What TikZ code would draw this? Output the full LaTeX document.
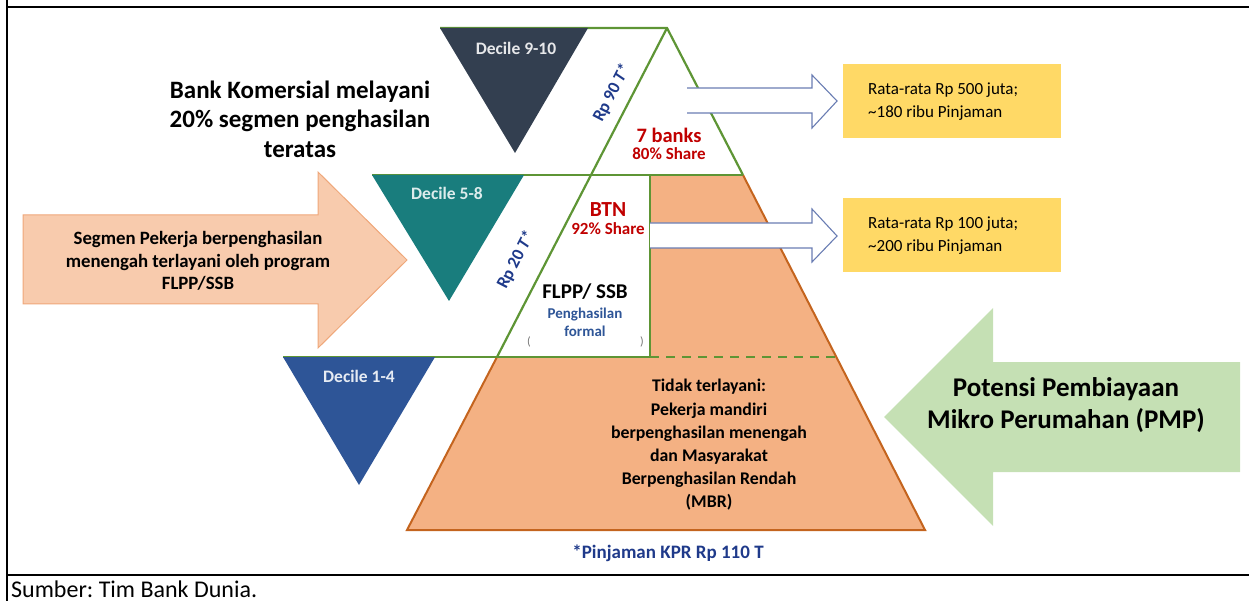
\documentclass[tikz,border=0pt]{standalone}
\usepackage{fontspec}
\setmainfont{Carlito}
\usepackage{tikz}
\usetikzlibrary{positioning}

\definecolor{decnine}{HTML}{333F50}
\definecolor{decfive}{HTML}{197D7D}
\definecolor{decone}{HTML}{2E5597}
\definecolor{pyrgreen}{HTML}{5E9535}
\definecolor{pyrfill}{HTML}{F4B183}
\definecolor{pyredge}{HTML}{C4641E}
\definecolor{peach}{HTML}{F8CBAD}
\definecolor{peachline}{HTML}{EFA77A}
\definecolor{arrline}{HTML}{6A7DB3}
\definecolor{boxyellow}{HTML}{FFD966}
\definecolor{pmpgreen}{HTML}{C5E0B4}
\definecolor{sharered}{HTML}{C00000}
\definecolor{rpblue}{HTML}{1F3A8A}

\newcommand{\setsz}[2]{\fontsize{#1}{#2}\selectfont}
\frenchspacing

\begin{document}
\begin{tikzpicture}[x=1pt, y=-1pt,
  decile/.style   = {inner sep=0pt, font=\setsz{17.5}{19}\bfseries},
  bigtext/.style  = {inner sep=0pt, align=center},
  greenline/.style= {draw=pyrgreen, line width=2.2pt},
  blockarr/.style = {draw=arrline, line width=1.1pt}]

\useasboundingbox (0,0) rectangle (1249,601);

% frame of the table cell
\draw [line width=2pt] (7,0) -- (7,601);
\draw [line width=2pt] (7,7) -- (1249,7);
\draw [line width=2pt] (7,575) -- (1249,575);
\node [anchor=base west, inner sep=0pt, font=\setsz{24}{26}] (src) at (11,597) {Sumber: Tim Bank Dunia.};

% pyramid corners
\coordinate (apex) at (667,28);
\coordinate (bl)   at (407,530);
\coordinate (br)   at (925,530);
\coordinate (l1)   at (591,175);
\coordinate (r1)   at (743,175);
\coordinate (l2)   at (497,357);
\coordinate (r2)   at (837,357);
\coordinate (m1)   at (650,175);
\coordinate (m2)   at (650,357);

% orange part that is not served
\fill [pyrfill] (m1) -- (r1) -- (br) -- (bl) -- (l2) -- (m2) -- cycle;
\draw [pyredge, line width=2pt] (r1) -- (br) -- (bl) -- (l2);

% green outline of the served segments
\draw [greenline] (440,28) -- (apex) -- (r1);
\draw [greenline] (apex) -- (l1) -- (l2);
\draw [greenline] (372,175) -- (r1);
\draw [greenline] (m1) -- (m2);
\draw [greenline] (283,357) -- (m2);
\draw [greenline, dash pattern=on 9pt off 7pt] (m2) -- (r2);

% decile wedges
\fill [decnine] (440,28)  -- (588,28)  -- (515,153) -- cycle;
\fill [decfive] (372,175) -- (524,175) -- (449,301) -- cycle;
\fill [decone]  (283,357) -- (435,357) -- (359,485) -- cycle;

\node [decile, text=white!88!decnine] (d910) at (516,48)  {Decile 9-10};
\node [decile, text=white!85!decfive] (d58)  at (447,193) {Decile 5-8};
\node [decile, text=white!88!decone]  (d14)  at (359,376) {Decile 1-4};

% arrows to the loan boxes
\fill [white] (687,88) -- (812,88) -- (812,75) -- (837,101) -- (812,128) -- (812,113) -- (687,113) -- cycle;
\draw [blockarr] (687,88) -- (812,88) -- (812,75) -- (837,101) -- (812,128) -- (812,113) -- (687,113);
\fill [white] (650,223) -- (812,223) -- (812,209) -- (837,236) -- (812,262) -- (812,248) -- (650,248) -- cycle;
\draw [blockarr] (650,223) -- (812,223) -- (812,209) -- (837,236) -- (812,262) -- (812,248) -- (650,248);

\node [fill=boxyellow, minimum width=218pt, minimum height=74pt, anchor=north west, inner sep=0pt] (box1) at (843,64) {};
\node [fill=boxyellow, minimum width=218pt, minimum height=74pt, anchor=north west, inner sep=0pt] (box2) at (843,198) {};
\node [anchor=west, align=left, inner sep=0pt, font=\setsz{17}{23}] (loan1) at ([xshift=25pt]box1.west) {Rata-rata Rp 500 juta;\\\textasciitilde180 ribu Pinjaman};
\node [anchor=west, align=left, inner sep=0pt, font=\setsz{17}{23}] (loan2) at ([xshift=25pt]box2.west) {Rata-rata Rp 100 juta;\\\textasciitilde200 ribu Pinjaman};

% side arrows
\draw [fill=peach, draw=peachline, line width=1pt] (23,215) -- (318,215) -- (318,172) -- (407,260) -- (318,348) -- (318,304) -- (23,304) -- cycle;
\fill [pmpgreen] (1240,362) -- (993,362) -- (993,308) -- (884,417) -- (993,526) -- (993,472) -- (1240,472) -- cycle;

\node [bigtext, font=\setsz{18.8}{22.5}\bfseries] (segmen) at (198,261) {Segmen Pekerja berpenghasilan\\menengah terlayani oleh program\\FLPP/SSB};
\node [bigtext, font=\setsz{25}{29.5}\bfseries] (komersial) at (300,119) {Bank Komersial melayani\\20\% segmen penghasilan\\teratas};
\node [bigtext, font=\setsz{27}{32}\bfseries] (pmp) at (1066,405) {Potensi Pembiayaan\\Mikro Perumahan (PMP)};

% labels inside the pyramid
\node [inner sep=0pt, rotate=62.6, text=rpblue, font=\setsz{17.5}{19}\bfseries] (rp90) at (612,93)  {Rp 90 \textit{T*}};
\node [inner sep=0pt, rotate=62.6, text=rpblue, font=\setsz{17.5}{19}\bfseries] (rp20) at (516,260) {Rp 20 \textit{T*}};

\node [inner sep=0pt, text=sharered, font=\setsz{20.5}{22}\bfseries] (banks) at (669,135) {7 banks};
\node [inner sep=0pt, text=sharered, font=\setsz{17}{18}\bfseries, below=5pt of banks] (share80) {80\% Share};
\node [inner sep=0pt, text=sharered, font=\setsz{21.5}{23}\bfseries] (btn) at (608,210) {BTN};
\node [inner sep=0pt, text=sharered, font=\setsz{17}{18}\bfseries, below=5pt of btn] (share92) {92\% Share};

\node [inner sep=0pt, font=\setsz{21}{23}\bfseries] (flpp) at (585,292) {FLPP/ SSB};
\node [bigtext, text=decone, font=\setsz{15}{18}\bfseries, below=8pt of flpp] (formal) {Penghasilan\\formal};
\node [inner sep=0pt, text=black!55, font=\setsz{12}{13}] (brl) at (529,342) {(};
\node [inner sep=0pt, text=black!55, font=\setsz{12}{13}] (brr) at (642,342) {)};

\node [bigtext, font=\setsz{17.8}{23.2}\bfseries] (mbr) at (709,445) {Tidak terlayani:\\Pekerja mandiri\\berpenghasilan menengah\\dan Masyarakat\\Berpenghasilan Rendah\\(MBR)};
\node [inner sep=0pt, text=rpblue, font=\setsz{19}{20}\bfseries] (kpr) at (668,553) {*Pinjaman KPR Rp 110 T};

\end{tikzpicture}
\end{document}
